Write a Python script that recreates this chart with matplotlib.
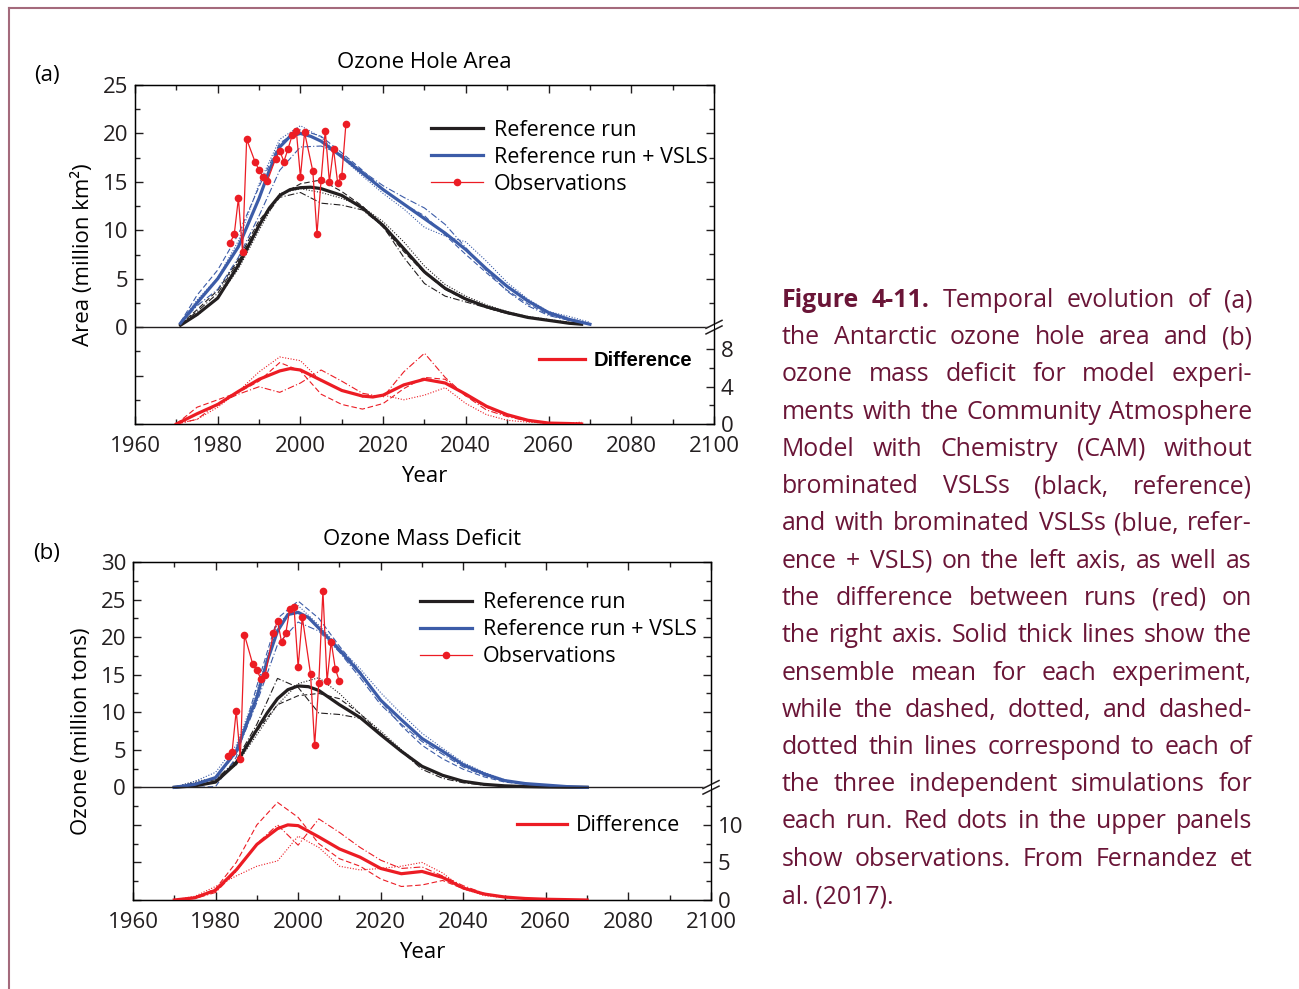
import matplotlib
matplotlib.use("Agg")
import matplotlib.pyplot as plt
from matplotlib.lines import Line2D
from matplotlib.ticker import MultipleLocator, FixedLocator, FuncFormatter

plt.rcParams['font.family'] = ['Open Sans', 'DejaVu Sans']

BLACK = '#231f20'
BLUE = '#3c5ca8'
RED = '#ec1c24'
CAPTION = '#6a1537'
FRAME = '#a46a7c'

# ---------------- (a) Ozone hole area, million km2 ----------------
# ensemble means (read a bit more densely around the peak)
yrs_a_ref_mean = [1971, 1975, 1980, 1985, 1990, 1992.5, 1995, 1997.5, 2000, 2002.5, 2005, 2010,
                  2015, 2020, 2025, 2030, 2035, 2040, 2045, 2050, 2055, 2060, 2065, 2068]
area_ref_mean = [0.2, 1.3, 3.0, 6.4, 10.5, 12.3, 13.6, 14.2, 14.4, 14.45, 14.3, 13.6,
                 12.3, 10.5, 8.1, 5.7, 4.0, 2.9, 2.1, 1.5, 1.0, 0.7, 0.4, 0.3]
yrs_a_vsls_mean = [1971, 1975, 1980, 1985, 1990, 1992.5, 1995, 1997.5, 2000, 2002.5, 2005, 2010,
                   2015, 2020, 2025, 2030, 2035, 2040, 2045, 2050, 2055, 2060, 2065, 2070]
area_vsls_mean = [0.4, 2.5, 5.0, 8.3, 13.3, 16.2, 18.6, 19.7, 20.0, 19.7, 19.2, 17.6,
                  15.9, 14.2, 12.7, 11.2, 9.7, 8.0, 6.0, 4.2, 2.7, 1.5, 0.8, 0.3]

# the three single simulations
yrs_a_ref = [1971, 1975, 1980, 1985, 1990, 1995, 2000, 2005, 2010, 2015, 2020,
             2025, 2030, 2035, 2040, 2045, 2050, 2055, 2060, 2065, 2068]
area_ref_dash = [0.3, 1.8, 3.8, 7.0, 11.0, 13.6, 14.8, 15.2, 14.0, 12.5, 10.3,
                 7.8, 5.6, 3.9, 2.8, 2.0, 1.4, 1.0, 0.7, 0.4, 0.3]
area_ref_dot = [0.3, 1.2, 3.0, 6.0, 10.0, 13.8, 14.3, 13.9, 13.3, 12.4, 10.9,
                8.8, 6.3, 4.4, 3.2, 2.3, 1.6, 1.1, 0.8, 0.5, 0.3]
area_ref_dashdot = [0.3, 1.6, 3.5, 6.8, 10.6, 13.4, 13.9, 12.8, 12.6, 12.1, 10.4,
                    7.2, 4.5, 3.2, 2.6, 2.0, 1.4, 1.0, 0.7, 0.5, 0.4]

yrs_a_vsls = [1971, 1975, 1980, 1985, 1990, 1995, 2000, 2005, 2010, 2015, 2020,
              2025, 2030, 2035, 2040, 2045, 2050, 2055, 2060, 2065, 2070]
area_vsls_dash = [0.5, 3.3, 5.9, 9.6, 14.5, 19.0, 20.4, 19.7, 18.0, 16.2, 14.2,
                  12.7, 11.5, 9.5, 7.5, 5.6, 3.8, 2.4, 1.3, 0.7, 0.3]
area_vsls_dot = [0.5, 2.8, 5.1, 8.9, 14.8, 19.4, 20.8, 19.6, 17.5, 15.6, 13.8,
                 12.2, 10.3, 9.4, 8.8, 6.8, 4.6, 2.9, 1.6, 1.1, 0.5]
area_vsls_dashdot = [0.4, 2.2, 3.9, 7.2, 11.5, 16.2, 18.6, 18.7, 17.8, 16.1, 14.6,
                     13.4, 12.3, 10.6, 8.2, 5.8, 3.7, 2.2, 1.2, 0.7, 0.3]

obs_yrs_a = [1983, 1984, 1985, 1986, 1987, 1989, 1990, 1991, 1992, 1994, 1995, 1996, 1997,
             1998, 1999, 2000, 2001, 2003, 2004, 2005, 2006, 2007, 2008, 2009, 2010, 2011]
obs_area = [8.7, 9.6, 13.3, 7.8, 19.4, 17.1, 16.2, 15.5, 15.1, 17.4, 18.2, 17.1, 18.4,
            19.8, 20.3, 15.5, 20.1, 16.1, 9.6, 15.2, 20.3, 15.0, 18.4, 14.9, 15.6, 21.0]

yrs_a_diff_mean = [1970, 1975, 1980, 1985, 1990, 1995, 1997.5, 2000, 2005, 2010, 2015, 2017.5,
                   2020, 2025, 2030, 2035, 2040, 2045, 2050, 2055, 2060, 2065, 2068]
diff_a_mean = [0.0, 1.1, 2.1, 3.5, 4.8, 5.7, 5.95, 5.8, 4.7, 3.6, 3.0, 2.9,
               3.1, 4.2, 4.8, 4.4, 3.2, 1.9, 1.0, 0.4, 0.1, 0.05, 0.0]
yrs_a_diff = [1970, 1975, 1980, 1985, 1990, 1995, 2000, 2005, 2010, 2015, 2020,
              2025, 2030, 2035, 2040, 2045, 2050, 2055, 2060, 2065, 2068]
diff_a_dash = [0.0, 1.8, 2.6, 3.4, 4.6, 6.6, 5.7, 3.2, 2.1, 1.6, 2.2,
               3.8, 5.0, 4.8, 3.0, 1.8, 0.9, 0.4, 0.1, 0.0, 0.1]
diff_a_dot = [0.0, 0.5, 1.8, 3.5, 5.6, 7.2, 6.8, 4.6, 3.7, 2.9, 3.1,
              2.6, 3.1, 3.9, 2.2, 1.0, 0.4, 0.2, 0.1, 0.1, 0.2]
diff_a_dashdot = [0.0, 0.5, 2.2, 3.2, 4.0, 3.4, 4.4, 5.8, 4.6, 3.3, 2.9,
                  5.6, 7.6, 5.0, 3.0, 1.5, 0.8, 0.3, 0.1, 0.0, 0.1]

# ---------------- (b) Ozone mass deficit, million tons ----------------
yrs_b_mean = [1970, 1975, 1980, 1985, 1990, 1992.5, 1995, 1997.5, 2000, 2002.5, 2005, 2010,
              2015, 2020, 2025, 2030, 2035, 2040, 2045, 2050, 2055, 2060, 2065, 2070]
mass_ref_mean = [0.0, 0.2, 0.7, 3.2, 7.7, 9.9, 11.8, 13.0, 13.5, 13.4, 12.9, 11.0,
                 9.3, 7.0, 4.8, 2.8, 1.6, 0.8, 0.4, 0.2, 0.1, 0.05, 0.02, 0.0]
mass_vsls_mean = [0.0, 0.4, 1.3, 4.8, 12.0, 16.8, 20.8, 23.0, 23.3, 22.6, 21.2, 18.3,
                  15.2, 11.6, 9.0, 6.5, 4.8, 3.0, 1.8, 0.9, 0.5, 0.3, 0.1, 0.0]

yrs_b = [1970, 1975, 1980, 1985, 1990, 1995, 2000, 2005, 2010, 2015, 2020,
         2025, 2030, 2035, 2040, 2045, 2050, 2055, 2060, 2065, 2070]
mass_ref_dash = [0.0, 0.3, 0.8, 3.5, 7.5, 11.0, 12.2, 12.5, 11.8, 9.8, 7.2,
                 4.8, 2.8, 1.5, 0.8, 0.4, 0.2, 0.1, 0.05, 0.02, 0.0]
mass_ref_dot = [0.0, 0.8, 1.2, 3.0, 7.0, 11.0, 13.8, 14.6, 12.5, 9.8, 7.5,
                5.0, 2.8, 1.5, 0.8, 0.4, 0.2, 0.1, 0.05, 0.02, 0.0]
mass_ref_dashdot = [0.0, 0.6, 1.0, 3.6, 8.4, 14.5, 13.3, 9.9, 9.7, 9.2, 7.2,
                    4.8, 2.4, 1.2, 0.6, 0.3, 0.2, 0.1, 0.05, 0.02, 0.0]
mass_vsls_dash = [0.0, 0.0, 0.1, 4.0, 13.5, 22.5, 24.8, 22.5, 18.8, 15.4, 11.5,
                  8.2, 5.6, 3.8, 2.4, 1.4, 0.7, 0.4, 0.2, 0.1, 0.0]
mass_vsls_dot = [0.0, 0.8, 2.0, 5.6, 12.8, 21.8, 24.2, 21.6, 18.6, 15.8, 12.6,
                 9.8, 7.2, 5.2, 3.3, 2.0, 1.0, 0.5, 0.3, 0.1, 0.0]
mass_vsls_dashdot = [0.0, 0.4, 1.3, 4.5, 11.3, 19.0, 22.0, 20.8, 18.0, 14.6, 11.0,
                     8.4, 6.1, 4.4, 2.7, 1.6, 0.8, 0.4, 0.2, 0.1, 0.0]

obs_yrs_b = [1983, 1984, 1985, 1986, 1987, 1989, 1990, 1991, 1992, 1994, 1995, 1996, 1997,
             1998, 1999, 2000, 2001, 2003, 2004, 2005, 2006, 2007, 2008, 2009, 2010]
obs_mass = [4.2, 4.7, 10.2, 3.8, 20.3, 16.4, 15.6, 14.4, 14.9, 20.5, 22.2, 19.3, 20.5,
            23.8, 24.0, 16.0, 22.7, 15.1, 5.6, 13.9, 26.2, 14.1, 19.4, 15.8, 14.1]

yrs_b_diff_mean = [1970, 1975, 1980, 1985, 1990, 1995, 1997.5, 2000, 2005, 2010, 2015,
                   2020, 2025, 2030, 2035, 2040, 2045, 2050, 2055, 2060, 2065, 2070]
diff_b_mean = [0.0, 0.3, 1.3, 4.0, 7.4, 9.5, 10.0, 9.9, 8.4, 6.8, 5.7,
               4.2, 3.5, 3.8, 3.0, 1.6, 0.8, 0.4, 0.2, 0.1, 0.05, 0.0]
diff_b_dash = [0.0, 0.3, 1.5, 5.0, 10.0, 13.0, 11.0, 7.5, 5.5, 4.5, 2.8,
               1.8, 2.0, 2.6, 1.5, 0.8, 0.4, 0.2, 0.1, 0.05, 0.0]
diff_b_dot = [0.0, 0.5, 1.8, 3.2, 4.5, 5.2, 8.5, 7.0, 4.5, 4.0, 4.2,
              4.5, 5.0, 3.6, 1.5, 0.6, 0.3, 0.2, 0.1, 0.05, 0.0]
diff_b_dashdot = [0.0, 0.2, 1.0, 3.8, 7.5, 10.0, 7.3, 10.8, 9.0, 7.0, 5.3,
                  4.2, 4.4, 3.2, 1.9, 0.9, 0.4, 0.2, 0.1, 0.05, 0.0]

caption_lines = [
    "Figure 4-11. Temporal evolution of (a)",
    "the Antarctic ozone hole area and (b)",
    "ozone mass deficit for model experi-",
    "ments with the Community Atmosphere",
    "Model with Chemistry (CAM) without",
    "brominated VSLSs (black, reference)",
    "and with brominated VSLSs (blue, refer-",
    "ence + VSLS) on the left axis, as well as",
    "the difference between runs (red) on",
    "the right axis. Solid thick lines show the",
    "ensemble mean for each experiment,",
    "while the dashed, dotted, and dashed-",
    "dotted thin lines correspond to each of",
    "the three independent simulations for",
    "each run. Red dots in the upper panels",
    "show observations. From Fernandez et",
    "al. (2017).",
]

W, H = 1299, 989
fig = plt.figure(figsize=(W / 100, H / 100), dpi=100)

STYLES = ['-', (0, (5, 2.5)), (0, (1, 1.5)), (0, (6, 2, 1, 2))]
TICK_FS = 16


def px(x, y):
    return x / W, 1 - y / H


def panel(box, title, ylabel, lo, hi, k, dmaj, dmin, ref, vsls, obs, diff,
          leg_xy, dleg_xy, dleg_prop):
    left, top, right, bottom = box
    ax = fig.add_axes([left / W, 1 - bottom / H, (right - left) / W, (bottom - top) / H])
    ax.set_xlim(1960, 2100)
    ax.set_ylim(lo, hi)

    for runs, col in ((ref, BLACK), (vsls, BLUE)):
        for (yrs, ser), ls in zip(runs[1:], STYLES[1:]):
            ax.plot(yrs, ser, color=col, lw=0.8, ls=ls)
    h_ref, = ax.plot(*ref[0], color=BLACK, lw=2.3)
    h_vsls, = ax.plot(*vsls[0], color=BLUE, lw=2.3)
    h_obs, = ax.plot(*obs, color=RED, lw=0.9, marker='o', ms=5.5, mew=0)
    ax.axhline(0, color=BLACK, lw=1)

    ax.xaxis.set_major_locator(MultipleLocator(20))
    ax.xaxis.set_minor_locator(MultipleLocator(10))
    ax.yaxis.set_major_locator(MultipleLocator(5))
    ax.yaxis.set_minor_locator(MultipleLocator(2.5))
    ax.yaxis.set_major_formatter(FuncFormatter(lambda v, p: f'{v:.0f}' if v >= 0 else ''))
    ax.tick_params(which='both', direction='in', top=True, right=False,
                   labelsize=TICK_FS, width=1, colors=BLACK)
    ax.tick_params(which='major', length=6, pad=5)
    ax.tick_params(which='minor', length=3.5)
    ax.tick_params(axis='x', which='major', pad=9)
    for s in ax.spines.values():
        s.set_linewidth(1)
    ax.set_title(title, fontsize=16, pad=12.5)
    ax.set_xlabel('Year', fontsize=16, labelpad=6)
    ax.set_ylabel(ylabel, fontsize=16, labelpad=6)

    ax.legend([h_ref, h_vsls, h_obs], ['Reference run', 'Reference run + VSLS', 'Observations'],
              loc='upper left', bbox_to_anchor=leg_xy, frameon=False, fontsize=15.5,
              handlelength=2.4, handletextpad=0.5, labelspacing=0.27,
              borderpad=0, borderaxespad=0)

    # difference on the right axis, sharing the lower part of the frame
    ax2 = ax.twinx()
    ax2.set_ylim(0, (hi - lo) * k)
    for (yrs, ser), ls in zip(diff[1:], STYLES[1:]):
        ax2.plot(yrs, ser, color=RED, lw=0.8, ls=ls)
    h_diff, = ax2.plot(*diff[0], color=RED, lw=2.3)
    up_major = [(v - lo) * k for v in range(5, hi + 1, 5)]
    up_minor = [(v + 2.5 - lo) * k for v in range(0, hi, 5)]
    ax2.yaxis.set_major_locator(FixedLocator(dmaj + up_major))
    ax2.yaxis.set_minor_locator(FixedLocator(dmin + up_minor))
    ax2.yaxis.set_major_formatter(
        FuncFormatter(lambda v, p: f'{v:g}' if any(abs(v - d) < 1e-6 for d in dmaj) else ''))
    ax2.tick_params(which='both', direction='in', labelsize=TICK_FS, width=1, colors=BLACK)
    ax2.tick_params(which='major', length=6, pad=5)
    ax2.tick_params(which='minor', length=3.5)
    ax2.legend([h_diff], ['Difference'], loc='center left', bbox_to_anchor=dleg_xy,
               frameon=False, prop=dleg_prop, handlelength=2.3, handletextpad=0.4,
               borderpad=0, borderaxespad=0)

    # axis break marks at the zero line on the right
    y0 = (0 - lo) / (hi - lo)
    dx, dy = 8 / (right - left), 4 / (bottom - top)
    gap = 2.8 / (bottom - top)
    ax.fill([1 - dx, 1 + dx, 1 + dx, 1 - dx],
            [y0 - dy - gap, y0 + dy - gap, y0 + dy + gap, y0 - dy + gap],
            transform=ax.transAxes, color='white', clip_on=False, zorder=5)
    for off in (-gap, gap):
        ax.plot([1 - dx, 1 + dx], [y0 - dy + off, y0 + dy + off], transform=ax.transAxes,
                color=BLACK, lw=1.1, clip_on=False, zorder=6)
    return ax


panel((135, 85, 714, 424), 'Ozone Hole Area', 'Area (million km²)', -10, 25, 1.04,
      [0, 4, 8], [2, 6],
      [(yrs_a_ref_mean, area_ref_mean), (yrs_a_ref, area_ref_dash),
       (yrs_a_ref, area_ref_dot), (yrs_a_ref, area_ref_dashdot)],
      [(yrs_a_vsls_mean, area_vsls_mean), (yrs_a_vsls, area_vsls_dash),
       (yrs_a_vsls, area_vsls_dot), (yrs_a_vsls, area_vsls_dashdot)],
      (obs_yrs_a, obs_area),
      [(yrs_a_diff_mean, diff_a_mean), (yrs_a_diff, diff_a_dash),
       (yrs_a_diff, diff_a_dot), (yrs_a_diff, diff_a_dashdot)],
      (0.512, 0.897), (0.698, 0.186),
      {'family': 'Liberation Sans', 'weight': 'bold', 'size': 14.5})

panel((133, 562, 711, 900), 'Ozone Mass Deficit', 'Ozone (million tons)', -15, 30, 1.0,
      [0, 5, 10], [2.5, 7.5, 12.5],
      [(yrs_b_mean, mass_ref_mean), (yrs_b, mass_ref_dash),
       (yrs_b, mass_ref_dot), (yrs_b, mass_ref_dashdot)],
      [(yrs_b_mean, mass_vsls_mean), (yrs_b, mass_vsls_dash),
       (yrs_b, mass_vsls_dot), (yrs_b, mass_vsls_dashdot)],
      (obs_yrs_b, obs_mass),
      [(yrs_b_diff_mean, diff_b_mean), (yrs_b, diff_b_dash),
       (yrs_b, diff_b_dot), (yrs_b, diff_b_dashdot)],
      (0.497, 0.91), (0.665, 0.219),
      {'family': 'Open Sans', 'size': 15.5})

fig.text(*px(47, 75), '(a)', fontsize=16, ha='center', va='center')
fig.text(*px(47, 553), '(b)', fontsize=16, ha='center', va='center')

# page frame
fig.add_artist(Line2D([9 / W, 9 / W], [0, 1 - 8 / H], color=FRAME, lw=1.5))
fig.add_artist(Line2D([9 / W, 1], [1 - 8 / H, 1 - 8 / H], color=FRAME, lw=1.5))

# justified caption
renderer = fig.canvas.get_renderer()
x0, x1 = 782, 1252
base0, step = 307, 37.25
fs = 17.0
probe = fig.text(0, 0, '', fontsize=fs)
widest = 0
for ln in caption_lines:
    probe.set_text(ln)
    widest = max(widest, probe.get_window_extent(renderer).width)
probe.remove()
fs = min(19.0, fs * (x1 - x0) / (widest * 1.01))

for i, ln in enumerate(caption_lines):
    yb = base0 + i * step
    if i == len(caption_lines) - 1:
        fig.text(*px(x0, yb), ln, fontsize=fs, color=CAPTION, va='baseline')
        continue
    words = ln.split(' ')
    texts = []
    for j, w in enumerate(words):
        bold = i == 0 and j < 2
        texts.append(fig.text(*px(x0, yb), w, fontsize=fs, color=CAPTION, va='baseline',
                              weight='bold' if bold else 'normal'))
    widths = [t.get_window_extent(renderer).width for t in texts]
    gap = (x1 - x0 - sum(widths)) / (len(words) - 1)
    x = x0
    for t, wd in zip(texts, widths):
        t.set_position(px(x, yb))
        x += wd + gap

fig.savefig('out.png', dpi=100)
